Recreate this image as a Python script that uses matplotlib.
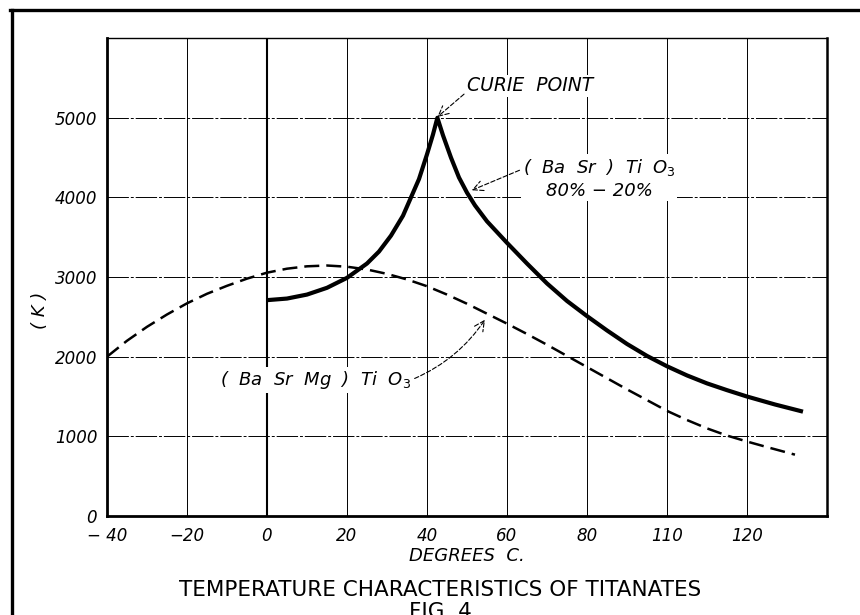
import matplotlib
matplotlib.use("Agg")
from matplotlib import pyplot as plt
from matplotlib.lines import Line2D

plt.rcParams['font.family'] = ['DejaVu Sans']
plt.rcParams['mathtext.fontset'] = 'dejavusans'

# (Ba Sr) Ti O3 80%-20%, solid curve
basr_t = [0, 5, 10, 15, 20, 25, 28, 31, 34, 36, 38, 40, 41.5, 42.6,
          44, 46, 48, 50, 52, 55, 60, 65, 70, 75, 80, 85, 90, 95, 100,
          105, 110, 115, 120, 127, 134]
basr_k = [2710, 2730, 2780, 2865, 2990, 3170, 3320, 3520, 3770, 4000, 4230, 4540, 4790, 5000,
          4780, 4500, 4250, 4060, 3900, 3700, 3430, 3170, 2920, 2700, 2510, 2330, 2160, 2010, 1880,
          1765, 1665, 1580, 1500, 1400, 1310]

# (Ba Sr Mg) Ti O3, dashed curve
basrmg_t = [-40, -35, -30, -25, -20, -15, -10, -5, 0, 5, 10, 15, 20, 25, 30, 35, 40, 45,
            50, 55, 60, 65, 70, 75, 80, 85, 90, 95, 100, 105, 110, 115, 120, 125, 132]
basrmg_k = [2000, 2200, 2375, 2530, 2670, 2790, 2890, 2980, 3055, 3105, 3135, 3145, 3130,
            3095, 3040, 2970, 2885, 2780, 2665, 2540, 2415, 2285, 2150, 2010, 1870, 1730,
            1590, 1455, 1320, 1205, 1100, 1010, 935, 865, 770]

x_ticks = [-40, -20, 0, 20, 40, 60, 80, 100, 120, 140]
x_labels = ["− 40", "−20", "0", "20", "40", "60", "80", "110", "120", ""]
y_ticks = [0, 1000, 2000, 3000, 4000, 5000, 6000]
y_labels = ["0", "1000", "2000", "3000", "4000", "5000", ""]

fig = plt.figure(figsize=(8.6, 6.15), dpi=100, facecolor='white')
ax = fig.add_axes([0.1244, 0.161, 0.8372, 0.777])

ax.set_xlim(-40, 140)
ax.set_ylim(0, 6000)
ax.set_xticks(x_ticks)
ax.set_xticklabels(x_labels, fontsize=12, style='italic')
ax.set_yticks(y_ticks)
ax.set_yticklabels(y_labels, fontsize=12, style='italic')
ax.tick_params(length=0)
ax.tick_params(axis='x', pad=8)
ax.tick_params(axis='y', pad=7)

for t in x_ticks[1:-1]:
    ax.axvline(t, color='black', lw=1.5 if t == 0 else 0.7, zorder=1)
for v in y_ticks[1:-1]:
    ax.axhline(v, color='black', lw=0.7, linestyle=(0, (22, 2, 3, 2)), zorder=1)

for side, lw in (('left', 2.0), ('bottom', 2.0), ('top', 1.0), ('right', 1.8)):
    ax.spines[side].set_linewidth(lw)

ax.plot(basr_t, basr_k, color='black', lw=3.0, solid_capstyle='butt',
        solid_joinstyle='round', zorder=3)
ax.plot(basrmg_t, basrmg_k, color='black', lw=1.8, dashes=(6, 2.8), zorder=3)

box = dict(boxstyle='square,pad=0.1', fc='white', ec='none')
arrow = dict(arrowstyle='->', lw=0.8, linestyle=(0, (4, 2)), color='black',
             shrinkA=1, shrinkB=0, mutation_scale=18)

ax.annotate("CURIE  POINT", xy=(42.6, 5010), xytext=(50, 5400),
            fontsize=13.5, style='italic', ha='left', va='center', bbox=box,
            arrowprops=dict(arrow, relpos=(0, 0.2)), zorder=4)

ax.annotate("(  Ba  Sr  )  Ti  O$_3$\n80% − 20%", xy=(51.2, 4090), xytext=(83, 4240),
            fontsize=13, style='italic', ha='center', va='center', linespacing=1.25,
            bbox=box, arrowprops=dict(arrow, relpos=(0.0, 0.72)), zorder=4)

ax.annotate("(  Ba  Sr  Mg  )  Ti  O$_3$", xy=(54.5, 2465), xytext=(12.25, 1710),
            fontsize=13, style='italic', ha='center', va='center', bbox=box,
            arrowprops=dict(arrow, relpos=(1.0, 0.5), connectionstyle='arc3,rad=0.15'),
            zorder=4)

fig.text(40 / 860, 1 - 310 / 615, "( K )", rotation=90, fontsize=13, style='italic',
         ha='center', va='center')
fig.text(467 / 860, 1 - 556 / 615, "DEGREES  C.", fontsize=13, style='italic',
         ha='center', va='center')
fig.text(440 / 860, 1 - 590 / 615, "TEMPERATURE CHARACTERISTICS OF TITANATES",
         fontsize=15.5, ha='center', va='center')
fig.text(440 / 860, 1 - 602 / 615, "FIG. 4", fontsize=15.5, ha='center', va='top')

fig.add_artist(Line2D([11.5 / 860, 11.5 / 860], [0, 1 - 10 / 615], color='black', lw=2.4))
fig.add_artist(Line2D([10 / 860, 1], [1 - 10 / 615, 1 - 10 / 615], color='black', lw=2.4))

fig.savefig("out.png", dpi=100, facecolor='white')
